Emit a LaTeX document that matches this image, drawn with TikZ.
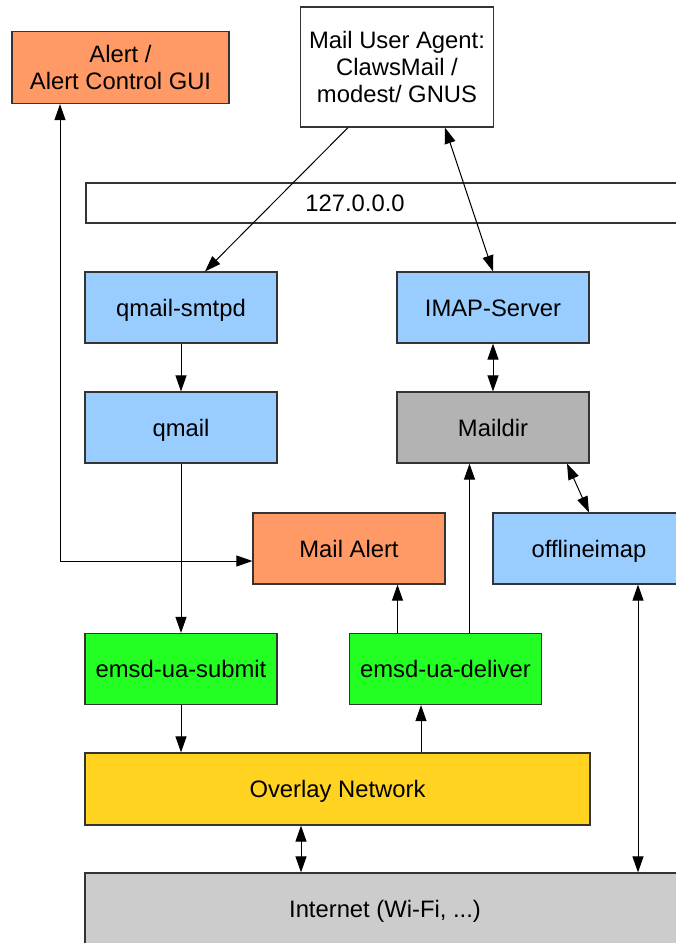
\documentclass[tikz,border=0pt]{standalone}
\usepackage{fontspec}
\setmainfont{Liberation Sans}
\usepackage{xcolor}
\definecolor{alertorange}{RGB}{255,153,102}
\definecolor{qmailblue}{RGB}{153,204,255}
\definecolor{maildirgray}{RGB}{179,179,179}
\definecolor{emsdgreen}{RGB}{35,255,35}
\definecolor{overlayyellow}{RGB}{255,211,32}
\definecolor{netgray}{RGB}{204,204,204}
\definecolor{boxline}{RGB}{52,52,52}
\usepackage{tikz}
\usetikzlibrary{arrows.meta}

\begin{document}
\begin{tikzpicture}[x=1pt, y=-1pt,
    box/.style={draw=boxline, line width=1.2pt, inner sep=0pt, align=center,
        minimum width=192pt, minimum height=71pt,
        font=\fontsize{23.8}{27}\selectfont},
    oneline/.style={text height=22pt, text depth=5pt},
    lbl/.style={inner sep=0pt, oneline, font=\fontsize{23.8}{27}\selectfont},
    arr/.style={line width=1pt, -{Triangle[length=16pt, width=11pt]}},
    darr/.style={line width=1pt, {Triangle[length=16pt, width=11pt]}-{Triangle[length=16pt, width=11pt]}}]
\useasboundingbox (0,0) rectangle (676,943);
\clip (0,0) rectangle (676,943);
% boxes
\node[box, fill=alertorange, minimum width=217pt, minimum height=72pt] (alertgui) at (120.5,67.5) {Alert /\\Alert Control GUI};
\node[box, fill=white, minimum width=193pt, minimum height=120pt] (mua) at (397,67) {Mail User Agent:\\ClawsMail /\\modest/ GNUS};
\node[box, fill=white, minimum width=600pt, minimum height=40pt] (loopback) at (386,203) {};
\node[lbl] (lotext) at (355,203) {127.0.0.0};
\node[box, oneline, fill=qmailblue] (smtpd) at (181,307.5) {qmail-smtpd};
\node[box, oneline, fill=qmailblue] (imap) at (493,307.5) {IMAP-Server};
\node[box, oneline, fill=qmailblue] (qmail) at (181,427.5) {qmail};
\node[box, oneline, fill=maildirgray] (maildir) at (493,427.5) {Maildir};
\node[box, oneline, fill=alertorange] (mailalert) at (349,548.5) {Mail Alert};
\node[box, oneline, fill=qmailblue] (offline) at (589,548.5) {offlineimap};
\node[box, oneline, fill=emsdgreen] (submit) at (181,669) {emsd-ua-submit};
\node[box, oneline, fill=emsdgreen] (deliver) at (445.5,669) {emsd-ua-deliver};
\node[box, oneline, fill=overlayyellow, minimum width=505pt, minimum height=72pt] (overlay) at (337.5,789) {Overlay Network};
\node[box, oneline, fill=netgray, minimum width=600pt, minimum height=72pt] (internet) at (385,909) {Internet (Wi-Fi, ...)};
% connectors
\draw[arr] ([xshift=-49pt]mua.south) -- ([xshift=24pt]smtpd.north);
\draw[darr] ([xshift=48pt]mua.south) -- (imap.north);
\draw[arr] (smtpd.south) -- (qmail.north);
\draw[darr] (imap.south) -- (maildir.north);
\draw[darr] ([xshift=74pt]maildir.south) -- (offline.north);
\draw[arr] (qmail.south) -- (submit.north);
\draw[darr] ([xshift=-60.5pt]alertgui.south) |- ([yshift=-12.5pt]mailalert.west);
\draw[arr] ([xshift=-48pt]deliver.north) -- ([xshift=-48pt]deliver.north |- mailalert.south);
\draw[arr] ([xshift=24pt]deliver.north) -- ([xshift=24pt]deliver.north |- maildir.south);
\draw[arr] (submit.south) -- (submit.south |- overlay.north);
\draw[arr] ([xshift=-24.5pt]deliver.south |- overlay.north) -- ([xshift=-24.5pt]deliver.south);
\draw[darr] ([xshift=-36.5pt]overlay.south) -- ([xshift=-36.5pt]overlay.south |- internet.north);
\draw[darr] ([xshift=49pt]offline.south) -- ([xshift=49pt]offline.south |- internet.north);
\end{tikzpicture}
\end{document}
